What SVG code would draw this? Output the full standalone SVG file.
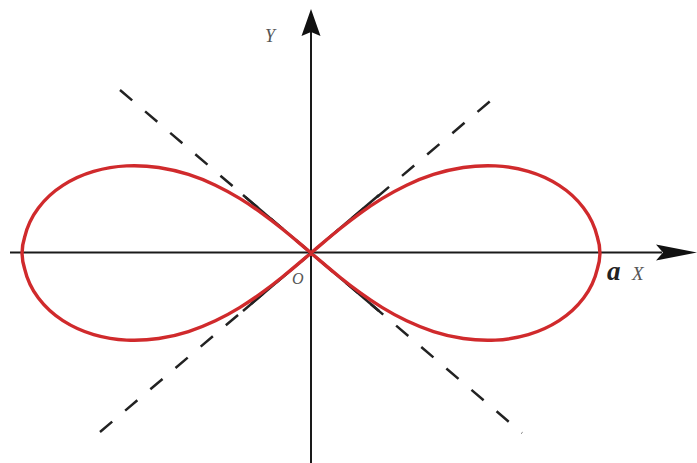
<svg xmlns="http://www.w3.org/2000/svg" width="697" height="463" viewBox="0 0 697 463">
<style>
.axis{stroke:#1a1a1a;stroke-width:2;fill:none}
.tan{stroke:#222;stroke-width:2.5;fill:none;stroke-dasharray:16 17}
.tanS{stroke:#222;stroke-width:2.5;fill:none}
.curve{stroke:#d02a2c;stroke-width:3.4;fill:none;stroke-linejoin:round}
.lbl{font-family:"Liberation Serif",serif;font-style:italic;fill:#555}
</style>
<rect width="697" height="463" fill="#fff"/>
<g id="connectors">
<line class="axis" x1="10" y1="252.5" x2="662" y2="252.5"/>
<polygon points="697,252.5 656,244.5 663,252.5 656,260.5" fill="#111"/>
<line class="axis" x1="311" y1="463" x2="311" y2="30"/>
<polygon points="311,9 320.5,36 311,32 301.5,36" fill="#111"/>
<line class="tan" x1="120" y1="90" x2="522" y2="433"/>
<line class="tan" x1="100" y1="432" x2="495" y2="97"/>
<line class="tanS" x1="243" y1="195" x2="379" y2="311"/>
<line class="tanS" x1="243" y1="311" x2="379" y2="195"/>
</g>
<g id="lemniscate">
<path class="curve" d="M597.35,268.87 Q602.5,253 597.35,237.14 Q593.70,221.27 583.62,207.92 Q573.53,194.56 559.12,185.33 Q544.70,176.09 528.31,171.35 Q511.92,166.60 495.39,165.86 Q478.86,165.12 463.29,167.49 Q447.71,169.86 433.53,174.47 Q419.35,179.07 406.61,185.18 Q393.86,191.29 382.37,198.36 Q370.87,205.42 360.35,213.08 Q349.83,220.74 339.96,228.73 Q330.09,236.72 320.55,244.86 Q311,253 301.46,261.14 Q291.91,269.28 282.04,277.27 Q272.17,285.26 261.65,292.92 Q251.13,300.58 239.64,307.65 Q228.14,314.71 215.40,320.82 Q202.65,326.93 188.47,331.54 Q174.29,336.14 158.72,338.51 Q143.14,340.88 126.61,340.14 Q110.08,339.40 93.69,334.66 Q77.30,329.91 62.89,320.68 Q48.47,311.44 38.39,298.09 Q28.30,284.73 24.65,268.87 Q19.5,253 24.65,237.14 Q28.30,221.27 38.39,207.92 Q48.47,194.56 62.89,185.33 Q77.30,176.09 93.69,171.35 Q110.08,166.60 126.61,165.86 Q143.14,165.12 158.72,167.49 Q174.29,169.86 188.47,174.47 Q202.65,179.07 215.40,185.18 Q228.14,191.29 239.64,198.36 Q251.13,205.42 261.65,213.08 Q272.17,220.74 282.04,228.73 Q291.91,236.72 301.46,244.86 Q311,253 320.55,261.14 Q330.09,269.28 339.96,277.27 Q349.83,285.26 360.35,292.92 Q370.87,300.58 382.37,307.65 Q393.86,314.71 406.61,320.82 Q419.35,326.93 433.53,331.54 Q447.71,336.14 463.29,338.51 Q478.86,340.88 495.39,340.14 Q511.92,339.40 528.31,334.66 Q544.70,329.91 559.12,320.68 Q573.53,311.44 583.62,298.09 Q593.70,284.73 597.35,268.87 Z"/>
</g>
<g id="labels">
<text class="lbl" x="265" y="42" font-size="18">Y</text>
<text class="lbl" x="292" y="284" font-size="16">O</text>
<text x="607" y="280" font-family="Liberation Serif,serif" font-style="italic" font-weight="bold" font-size="27" fill="#222">a</text>
<text class="lbl" x="632" y="280" font-size="19">X</text>
</g>
</svg>
